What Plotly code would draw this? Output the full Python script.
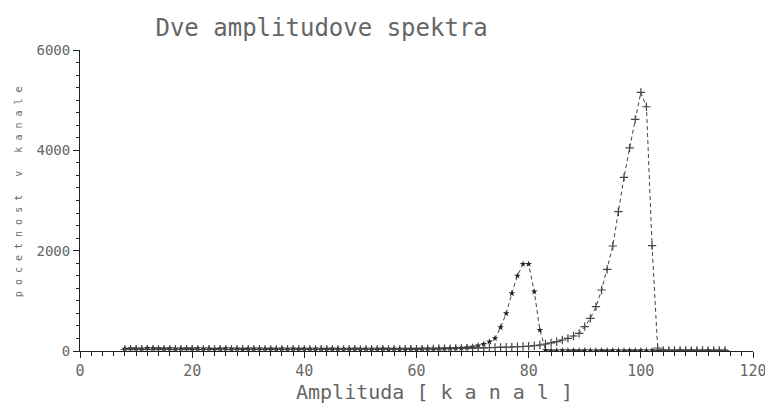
import plotly.graph_objects as go

# channels (kanal)
channels = list(range(8, 116))

# Series A: smaller peak near channel 80
spectrum_a = [
    45, 55, 50, 48, 58, 52, 55, 47, 52, 46, 50, 55, 48,          # 8-20
    52, 47, 50, 45, 48, 52, 46, 50, 44, 48, 46, 50, 45, 47, 44,  # 21-35
    48, 45, 46, 44, 47, 43, 46, 45, 44, 47, 43, 45, 44, 46, 42,  # 36-50
    45, 44, 43, 46, 42, 45, 44, 43, 45, 44, 46, 48, 47, 50, 52,  # 51-65
    55, 58, 62, 70, 85, 110, 140,                                # 66-72
    185, 253, 472, 751, 1150, 1500, 1734, 1734, 1182, 419, 20,   # 73-83
    10, 10, 12, 10, 11, 10, 12, 10, 10, 11, 10, 12, 10, 10, 11,  # 84-98
    10, 12, 10, 11, 10, 12, 10, 10, 11, 10, 12, 10, 10, 11, 10,  # 99-113
    10, 10,                                                       # 114-115
]

# Series B: large peak near channel 100
spectrum_b = [
    30, 35, 32, 38, 34, 30, 36, 33, 31, 35, 30, 34, 32,          # 8-20
    33, 30, 35, 31, 34, 30, 33, 31, 35, 30, 32, 34, 30, 33, 31,  # 21-35
    32, 30, 34, 31, 33, 30, 32, 34, 31, 30, 33, 32, 30, 34, 31,  # 36-50
    33, 32, 30, 34, 31, 33, 32, 35, 34, 36, 38, 40, 42, 44, 46,  # 51-65
    48, 50, 52, 55, 58, 60, 62,                                  # 66-72
    65, 70, 72, 75, 80, 85, 90, 95, 105, 120, 140,               # 73-83
    160, 186, 219, 252, 299, 352, 485, 651, 884, 1216, 1628,     # 84-94
    2093, 2777, 3461, 4050, 4617, 5156, 4869, 2100, 60,          # 95-103
    12, 10, 11, 10, 12, 10, 11, 10, 12, 10, 11, 10,              # 104-115
]

x_ticks = [0, 20, 40, 60, 80, 100, 120]
y_ticks = [0, 2000, 4000, 6000]

FONT = "DejaVu Sans Mono"
INK = "#666666"

fig = go.Figure()
fig.add_trace(go.Scatter(
    x=channels, y=spectrum_a, mode="lines+markers",
    line=dict(color="#444444", width=1, dash="4px,3px"),
    marker=dict(symbol="star", size=5, color="#222222"),
    showlegend=False,
))
fig.add_trace(go.Scatter(
    x=channels, y=spectrum_b, mode="lines+markers",
    line=dict(color="#444444", width=1, dash="4px,3px"),
    marker=dict(symbol="cross-thin-open", size=6,
                line=dict(color="#222222", width=1.2)),
    showlegend=False,
))

fig.update_layout(
    width=765, height=409,
    margin=dict(l=72, r=20, t=42, b=66, autoexpand=False),
    paper_bgcolor="white", plot_bgcolor="white",
    title=dict(text="Dve amplitudove spektra", x=0.41, xanchor="center",
               xref="container", y=0.951, yanchor="middle", yref="container",
               font=dict(family=FONT, size=24, color=INK)),
    font=dict(family=FONT, color=INK),
)

fig.update_xaxes(
    range=[0, 120], tickvals=x_ticks, ticktext=[str(v) for v in x_ticks],
    showgrid=False, zeroline=False, showline=True, linecolor="#222222", linewidth=1,
    ticks="outside", ticklen=6, tickcolor="#222222",
    tickfont=dict(family=FONT, size=15, color=INK),
    minor=dict(dtick=2, ticks="outside", ticklen=4, tickcolor="#222222"),
)
fig.update_yaxes(
    range=[0, 6000], tickvals=y_ticks, ticktext=[str(v) for v in y_ticks],
    showgrid=False, zeroline=False, showline=True, linecolor="#222222", linewidth=1,
    ticks="outside", ticklen=6, tickcolor="#222222",
    tickfont=dict(family=FONT, size=14, color=INK),
    minor=dict(dtick=250, ticks="outside", ticklen=3, tickcolor="#222222"),
)

fig.add_annotation(
    text="Amplituda [ k a n a l ]", xref="paper", yref="paper",
    x=0.527, y=-0.136, xanchor="center", yanchor="middle", showarrow=False,
    font=dict(family=FONT, size=20, color=INK),
)
fig.add_annotation(
    text="p o c e t n o s t \u00a0 v \u00a0 k a n a l e", xref="paper", yref="paper",
    x=-0.092, y=0.528, xanchor="center", yanchor="middle", showarrow=False,
    textangle=-90, font=dict(family=FONT, size=10, color=INK),
)

fig.write_html("out.html")
